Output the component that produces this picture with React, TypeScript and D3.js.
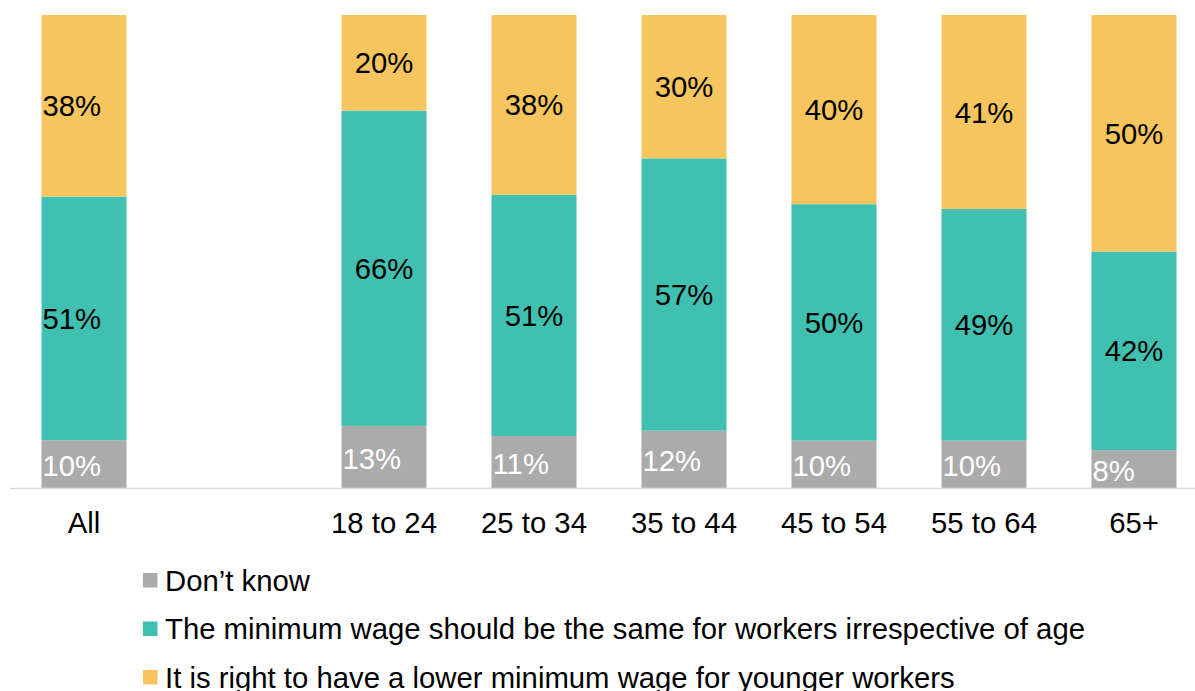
import React from "react";
import * as d3 from "d3";

const categories = ["All", "", "18 to 24", "25 to 34", "35 to 44", "45 to 54", "55 to 64", "65+"];
const seriesNames = [
  "Don’t know",
  "The minimum wage should be the same for workers irrespective of age",
  "It is right to have a lower minimum wage for younger workers",
];
const dontKnow = [10, null, 13, 11, 12, 10, 10, 8];
const sameWage = [51, null, 66, 51, 57, 50, 49, 42];
const lowerWage = [38, null, 20, 38, 30, 40, 41, 50];
const colors = ["#ababab", "#40c0b0", "#f6c55e"];

const W = 1195;
const H = 691;
const FS = 29.3;

export default function App() {
  const seriesValues = [dontKnow, sameWage, lowerWage];
  const rows = categories.map((c, i) => ({
    cat: c,
    s0: seriesValues[0][i] ?? 0,
    s1: seriesValues[1][i] ?? 0,
    s2: seriesValues[2][i] ?? 0,
    has: seriesValues[0][i] != null,
  }));
  const stack = d3.stack<any>().keys(["s0", "s1", "s2"]).offset(d3.stackOffsetExpand);
  const stacked = stack(rows.filter((r) => r.has));

  const x = d3.scaleBand<string>().domain(categories).range([9, 1209]).paddingInner(0.4333).paddingOuter(0.2167);
  const y = d3.scaleLinear().domain([0, 1]).range([488, 15]);
  const bw = x.bandwidth();

  return (
    <svg width={W} height={H} style={{ position: "absolute", left: 0, top: 0, display: "block" }}
      fontFamily="'Liberation Sans', Arial, sans-serif">
      <rect width={W} height={H} fill="#fff" />
      {stacked.map((layer, li) =>
        layer.map((d: any) => {
          const cat = d.data.cat;
          const x0 = x(cat)!;
          const yTop = y(d[1]);
          const yBot = y(d[0]);
          const raw = seriesValues[li][categories.indexOf(cat)];
          const startAnchor = li === 0 || cat === "All";
          const cy = (yTop + yBot) / 2;
          return (
            <g key={`${li}-${cat}`}>
              <rect x={x0} y={yTop} width={bw} height={yBot - yTop} fill={colors[li]} />
              <text
                x={startAnchor ? x0 + 1 : x0 + bw / 2}
                y={cy + FS * 0.36 + (li === 0 ? 1.5 : 0)}
                fontSize={FS}
                textAnchor={startAnchor ? "start" : "middle"}
                fill={li === 0 ? "#ffffff" : "#000000"}
              >
                {raw}%
              </text>
            </g>
          );
        })
      )}
      <line x1={10} x2={W} y1={488.5} y2={488.5} stroke="#d9d9d9" strokeWidth={1.5} />
      {categories.map((c) =>
        c ? (
          <text key={c} x={x(c)! + bw / 2} y={532.5} fontSize={FS} textAnchor="middle" fill="#000">
            {c}
          </text>
        ) : null
      )}
      {seriesNames.map((n, i) => (
        <g key={n} transform={`translate(0, ${580 + i * 48.5})`}>
          <rect x={143} y={-7} width={14.5} height={14.5} fill={colors[i]} />
          <text x={165} y={FS * 0.36} fontSize={FS} fill="#000">
            {n}
          </text>
        </g>
      ))}
    </svg>
  );
}
